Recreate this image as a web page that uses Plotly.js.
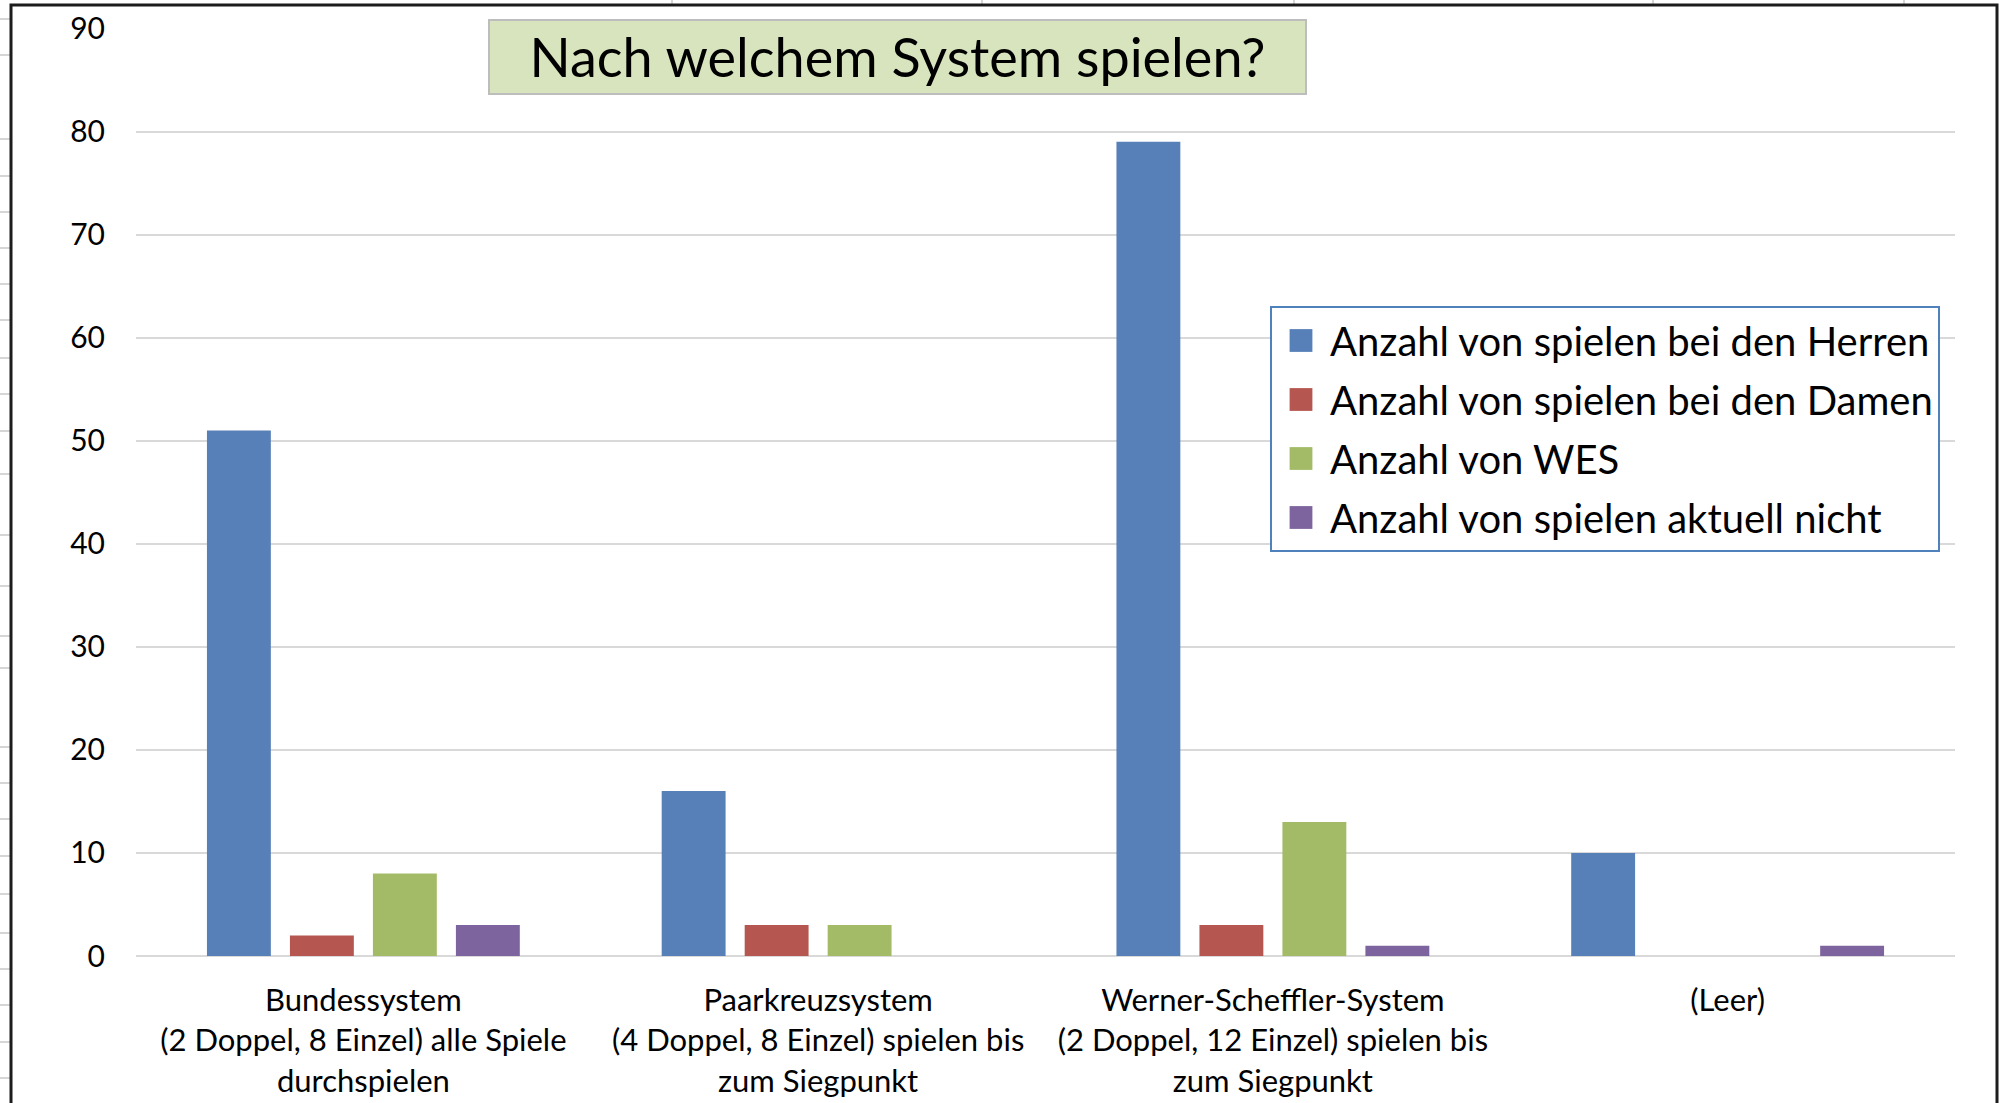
<!DOCTYPE html>
<html>
<head>
<meta charset="utf-8">
<script src="https://cdn.plot.ly/plotly-3.0.1.min.js"></script>
<style>
  html, body { margin: 0; padding: 0; background: #ffffff; }
  #chart { width: 2000px; height: 1103px; }
</style>
</head>
<body>
<div id="chart"></div>
<script>
// ---- data ----
const categories = ['Bundessystem', 'Paarkreuzsystem', 'Werner-Scheffler-System', '(Leer)'];
const tickLabels = [
  'Bundessystem<br>(2 Doppel, 8 Einzel) alle Spiele<br>durchspielen',
  'Paarkreuzsystem<br>(4 Doppel, 8 Einzel) spielen bis<br>zum Siegpunkt',
  'Werner-Scheffler-System<br>(2 Doppel, 12 Einzel) spielen bis<br>zum Siegpunkt',
  '(Leer)'
];
const seriesNames = [
  'Anzahl von spielen bei den Herren',
  'Anzahl von spielen bei den Damen',
  'Anzahl von WES',
  'Anzahl von spielen aktuell nicht'
];
const herren = [51, 16, 79, 10];
const damen = [2, 3, 3, 0];
const wes = [8, 3, 13, 0];
const aktuellNicht = [3, 0, 1, 1];
const yTicks = [0, 10, 20, 30, 40, 50, 60, 70, 80, 90];
const chartTitle = 'Nach welchem System spielen?';

// ---- layout geometry (pixels) ----
const W = 2000, H = 1103;
const M = { l: 136, r: 45, t: 28, b: 147 };
const PW = W - M.l - M.r, PH = H - M.t - M.b;
const xp = px => (px - M.l) / PW;
const yp = py => (H - M.b - py) / PH;

const colors = ['#5880B8', '#B55750', '#A3BB67', '#7E649F'];
const values = [herren, damen, wes, aktuellNicht];
const FONT = 'Lato, "Open Sans", sans-serif';

const traces = seriesNames.map((name, i) => ({
  type: 'bar',
  name: name,
  x: categories,
  y: values[i],
  legendgroup: 'g' + i,
  marker: { color: colors[i], line: { width: 0 } },
  hoverinfo: 'x+y+name'
}));

const shapes = [];
// spreadsheet cell lines outside the chart frame
const rowLines = [19, 55, 139, 176, 212, 248, 284, 320, 358, 394, 431, 474, 535, 586, 636, 668, 747, 783, 819, 856, 894, 933, 969, 1005, 1042, 1078];
rowLines.forEach(py => shapes.push({
  type: 'line', xref: 'paper', yref: 'paper', layer: 'below',
  x0: xp(0), x1: xp(10), y0: yp(py), y1: yp(py),
  line: { color: '#d6d6d6', width: 2 }
}));
const colLines = [672, 982, 1294, 1653, 1904];
colLines.forEach(px => shapes.push({
  type: 'line', xref: 'paper', yref: 'paper', layer: 'below',
  x0: xp(px), x1: xp(px), y0: yp(0), y1: yp(5),
  line: { color: '#d6d6d6', width: 2 }
}));
// chart frame
shapes.push({
  type: 'rect', xref: 'paper', yref: 'paper', layer: 'above',
  x0: xp(11), x1: xp(1997), y0: yp(1120), y1: yp(5),
  line: { color: '#1c1c1c', width: 3 }, fillcolor: 'rgba(0,0,0,0)'
});
// title box
shapes.push({
  type: 'rect', xref: 'paper', yref: 'paper', layer: 'above',
  x0: xp(489), x1: xp(1306), y0: yp(94), y1: yp(20),
  line: { color: '#bdbdbd', width: 2 }, fillcolor: '#D7E4BD'
});

const layout = {
  width: W, height: H,
  margin: M,
  paper_bgcolor: '#ffffff',
  plot_bgcolor: '#ffffff',
  font: { family: FONT, color: '#000000', size: 31 },
  title: {
    text: chartTitle,
    font: { family: FONT, size: 54, color: '#000000' },
    xref: 'container', yref: 'container',
    x: 897.5 / W, y: 1 - 58 / H,
    xanchor: 'center', yanchor: 'middle'
  },
  barmode: 'group',
  bargap: 0.27,
  bargroupgap: 0.23,
  showlegend: true,
  legend: {
    x: xp(1270), y: yp(306), xanchor: 'left', yanchor: 'top',
    bgcolor: '#ffffff',
    bordercolor: '#4F81BD', borderwidth: 2,
    font: { family: FONT, size: 40, color: '#000000' },
    traceorder: 'grouped',
    tracegroupgap: 4,
    itemwidth: 48
  },
  xaxis: {
    type: 'category',
    tickvals: categories,
    ticktext: tickLabels,
    showgrid: false,
    zeroline: false,
    showline: false,
    ticks: '',
    ticklabelstandoff: 23,
    tickfont: { family: FONT, size: 31, color: '#000000' },
    fixedrange: true
  },
  yaxis: {
    range: [0, 90.05],
    tickvals: yTicks,
    showgrid: true,
    gridcolor: '#d9d9d9',
    gridwidth: 2,
    zeroline: true,
    zerolinecolor: '#d9d9d9',
    zerolinewidth: 2,
    showline: false,
    ticks: '',
    ticklabelstandoff: 30,
    tickfont: { family: FONT, size: 30, color: '#000000' },
    fixedrange: true
  },
  shapes: shapes
};

Plotly.newPlot('chart', traces, layout, { displayModeBar: false, staticPlot: true }).then(gd => {
  // enlarge legend swatches to match the reference (keep plotly's own translate)
  gd.querySelectorAll('.legend .legendpoints path').forEach(p => {
    const t = p.getAttribute('transform') || '';
    p.setAttribute('transform', t + ' scale(1.9)');
  });
});
</script>
</body>
</html>
